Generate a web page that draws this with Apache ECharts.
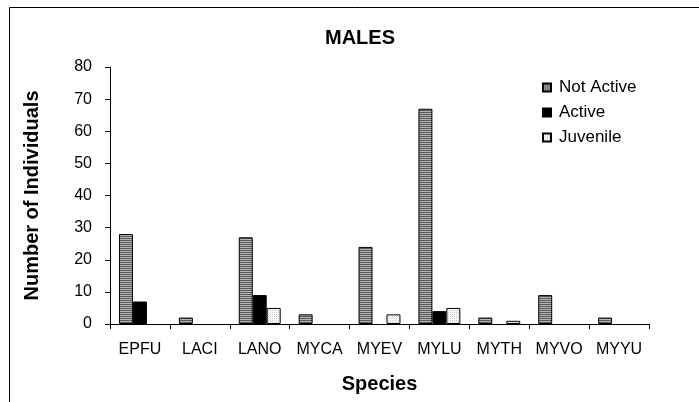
<!DOCTYPE html>
<html>
<head>
<meta charset="utf-8">
<script src="https://cdn.jsdelivr.net/npm/echarts@6/dist/echarts.min.js"></script>
<style>
html,body{margin:0;padding:0;background:#fff;}
#chart{width:699px;height:402px;}
</style>
</head>
<body>
<div id="chart"></div>
<script>
const categories = ['EPFU','LACI','LANO','MYCA','MYEV','MYLU','MYTH','MYVO','MYYU'];
const notActive = [28, 2, 27, 3, 24, 67, 2, 9, 2];
const active    = [7, '-', 9, '-', '-', 4, '-', '-', '-'];
const juvenile  = ['-', '-', 5, '-', 3, 5, 1, '-', '-'];
const yTicks = {min: 0, max: 80, interval: 10};

function stripePattern() {
  const c = document.createElement('canvas');
  c.width = 4; c.height = 2;
  const g = c.getContext('2d');
  g.fillStyle = '#5a5a5a'; g.fillRect(0,0,4,1);
  g.fillStyle = '#b4b4b4'; g.fillRect(0,1,4,1);
  return c;
}
function dotPattern() {
  const c = document.createElement('canvas');
  c.width = 2; c.height = 2;
  const g = c.getContext('2d');
  g.fillStyle = '#ffffff'; g.fillRect(0,0,2,2);
  g.fillStyle = '#c8c8c8'; g.fillRect(0,0,1,1);
  g.fillStyle = '#eeeeee'; g.fillRect(1,1,1,1);
  return c;
}

const FONT = 'Liberation Sans, Arial, sans-serif';
const chart = echarts.init(document.getElementById('chart'), null, {renderer: 'canvas'});
const barBorder = {borderColor: '#000', borderWidth: 1};

chart.setOption({
  animation: false,
  backgroundColor: '#fff',
  title: {
    text: 'MALES', left: 360, top: 28, textAlign: 'center', padding: 0,
    textStyle: {fontFamily: FONT, fontSize: 20, fontWeight: 'bold', color: '#000'}
  },
  graphic: [{
    type: 'rect', shape: {x: 9.5, y: 7.5, width: 720, height: 420},
    style: {fill: 'none', stroke: '#000', lineWidth: 1}, silent: true
  }],
  legend: {
    orient: 'vertical', left: 542, top: 79, padding: 0, icon: 'rect',
    itemWidth: 8, itemHeight: 8, itemGap: 8,
    textStyle: {fontFamily: FONT, fontSize: 17, color: '#000', padding: [0,0,0,3]},
    data: ['Not Active','Active','Juvenile']
  },
  grid: {left: 110, right: 50, top: 67, bottom: 78, containLabel: false},
  xAxis: {
    type: 'category', data: categories,
    name: 'Species', nameLocation: 'middle', nameGap: 50,
    nameTextStyle: {fontFamily: FONT, fontSize: 20, fontWeight: 'bold', color: '#000'},
    axisLine: {lineStyle: {color: '#000', width: 1}},
    axisTick: {show: true, length: 5, lineStyle: {color: '#000'}},
    axisLabel: {fontFamily: FONT, fontSize: 16, color: '#000', margin: 18, interval: 0},
    splitLine: {show: false}
  },
  yAxis: {
    type: 'value', min: yTicks.min, max: yTicks.max, interval: yTicks.interval,
    name: 'Number of Individuals', nameLocation: 'middle', nameGap: 68, nameRotate: 90,
    nameTextStyle: {fontFamily: FONT, fontSize: 20, fontWeight: 'bold', color: '#000'},
    axisLine: {show: true, lineStyle: {color: '#000', width: 1}},
    axisTick: {show: true, length: 5, lineStyle: {color: '#000'}},
    axisLabel: {fontFamily: FONT, fontSize: 16, color: '#000', margin: 18},
    splitLine: {show: false}
  },
  series: [
    {name: 'Not Active', type: 'bar', data: notActive, barGap: '0%', barCategoryGap: '30%',
     itemStyle: Object.assign({color: {image: stripePattern(), repeat: 'repeat'}}, barBorder)},
    {name: 'Active', type: 'bar', data: active, barGap: '0%', barCategoryGap: '30%',
     itemStyle: Object.assign({color: '#000'}, barBorder)},
    {name: 'Juvenile', type: 'bar', data: juvenile, barGap: '0%', barCategoryGap: '30%',
     itemStyle: Object.assign({color: {image: dotPattern(), repeat: 'repeat'}}, barBorder)}
  ]
});
</script>
</body>
</html>
